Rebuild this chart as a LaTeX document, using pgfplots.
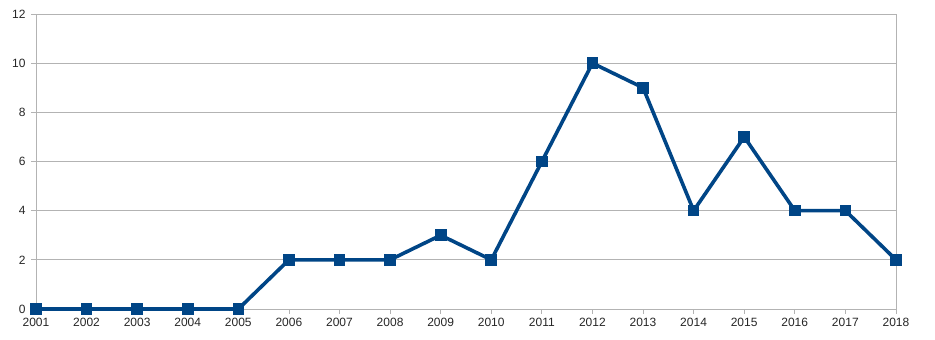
\documentclass[border=0pt]{standalone}
\usepackage{pgfplots}
\pgfplotsset{compat=1.18}
\usepackage{fontspec}
\setmainfont{Liberation Sans}
\definecolor{lineblue}{HTML}{004586}
\definecolor{gridgray}{HTML}{B3B3B3}
\begin{document}
\begin{tikzpicture}
\begin{axis}[
  at={(0,0)}, anchor=south west,
  scale only axis, width=860pt, height=295pt,
  xmin=2001, xmax=2018, ymin=0, ymax=12,
  xtick={2001,...,2018}, ytick={0,2,...,12},
  /pgf/number format/assume math mode=true,
  /pgf/number format/1000 sep={},
  tick label style={font=\fontsize{12}{14}\selectfont, text=black!85},
  ymajorgrids, grid style={gridgray, line width=0.8pt},
  axis line style={gridgray, line width=0.8pt},
  tick style={gridgray, line width=0.8pt},
  tick align=outside, major tick length=5pt,
  xtick pos=bottom, ytick pos=left,
  yticklabel style={xshift=-2pt},
  xticklabel style={yshift=-1pt},
  clip=false,
]
\addplot[lineblue, line width=3.6pt, line join=miter, mark=square*, mark size=5.3pt, mark options={line width=0pt}] coordinates {
(2001,0) (2002,0) (2003,0) (2004,0) (2005,0) (2006,2) (2007,2) (2008,2) (2009,3) (2010,2) (2011,6) (2012,10) (2013,9) (2014,4) (2015,7) (2016,4) (2017,4) (2018,2)
};
\end{axis}
\pgfresetboundingbox
\path (-36pt,-31pt) rectangle (899pt,309pt);
\end{tikzpicture}
\end{document}
